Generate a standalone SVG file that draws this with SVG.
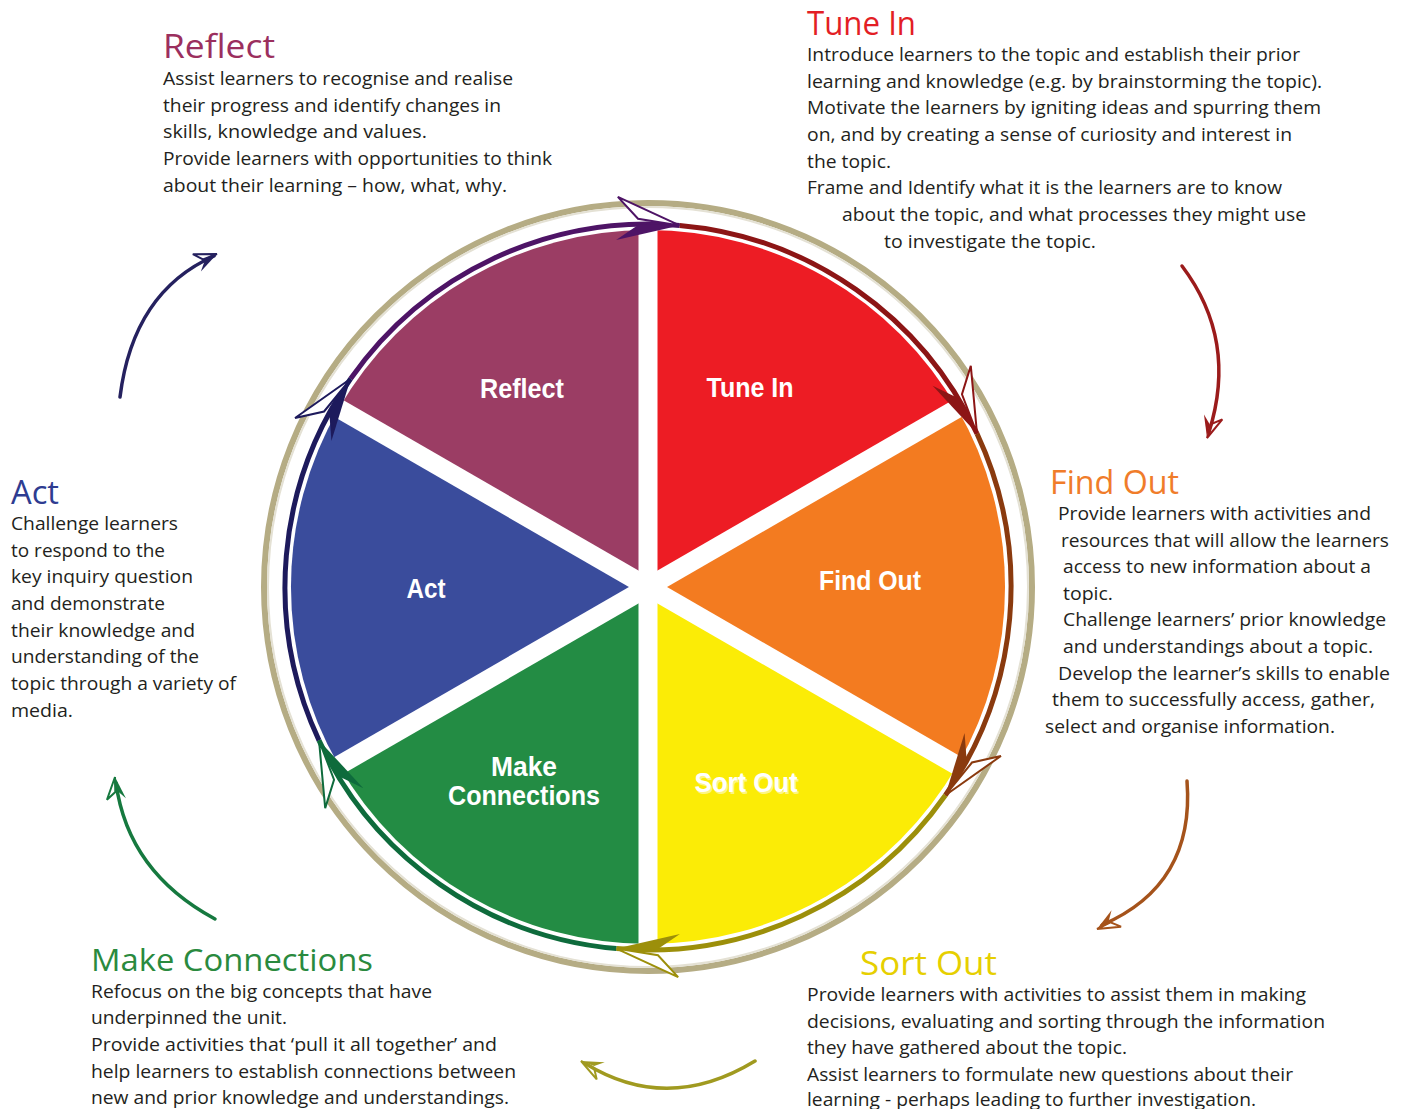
<svg xmlns="http://www.w3.org/2000/svg" width="1407" height="1109" viewBox="0 0 1407 1109">
<style>
.body{font-family:"Open Sans","Noto Sans","Liberation Sans",sans-serif;font-size:18px;fill:#231f20}
.title{font-family:"Open Sans","Noto Sans","Liberation Sans",sans-serif;font-size:33px}
.lbl{font-family:"Liberation Sans",Arial,sans-serif;font-weight:bold;font-size:28px;fill:#ffffff}
.sep{stroke:#ffffff;stroke-width:19}
.trk{fill:none;stroke-width:5}
.ext{fill:none;stroke-width:3.5;stroke-linecap:round}
</style>
<defs>
<g id="ah">
<polygon points="0,0 -64,-23 -42,-3" fill="#ffffff" stroke="currentColor" stroke-width="2" stroke-linejoin="miter"/>
<polygon points="0,0 -62,20 -40,2" fill="currentColor"/>
</g>
<g id="sh">
<path d="M0,0 L-22,-10 L-15,-1 Z" fill="none" stroke="currentColor" stroke-width="2"/>
<path d="M0,0 L-22,9 L-14,1 Z" fill="currentColor"/>
</g>
</defs>
<rect width="1407" height="1109" fill="#ffffff"/>

<g id="ring">
<circle cx="648" cy="587" r="384" fill="#ffffff" stroke="#b5ac84" stroke-width="6"/>
<circle cx="648" cy="587" r="380" fill="none" stroke="#e4e1d4" stroke-width="2"/>
</g>

<g id="tune-in">
<path d="M648,587 L648,230 A357,357 0 0 1 957.2,408.5 Z" fill="#ed1c24"/>
<text class="lbl" x="750" y="397" text-anchor="middle" textLength="87" lengthAdjust="spacingAndGlyphs">Tune In</text>
<text class="title" x="807" y="35" fill="#e31e25" textLength="109" lengthAdjust="spacingAndGlyphs">Tune In</text>
<text class="body" x="807" y="61" textLength="493" lengthAdjust="spacingAndGlyphs">Introduce learners to the topic and establish their prior</text>
<text class="body" x="807" y="88" textLength="515" lengthAdjust="spacingAndGlyphs">learning and knowledge (e.g. by brainstorming the topic).</text>
<text class="body" x="807" y="114" textLength="514" lengthAdjust="spacingAndGlyphs">Motivate the learners by igniting ideas and spurring them</text>
<text class="body" x="807" y="141" textLength="485" lengthAdjust="spacingAndGlyphs">on, and by creating a sense of curiosity and interest in</text>
<text class="body" x="807" y="168" textLength="84" lengthAdjust="spacingAndGlyphs">the topic.</text>
<text class="body" x="807" y="194" textLength="475" lengthAdjust="spacingAndGlyphs">Frame and Identify what it is the learners are to know</text>
<text class="body" x="842" y="221" textLength="464" lengthAdjust="spacingAndGlyphs">about the topic, and what processes they might use</text>
<text class="body" x="884" y="248" textLength="212" lengthAdjust="spacingAndGlyphs">to investigate the topic.</text>
</g>

<g id="find-out">
<path d="M648,587 L957.2,408.5 A357,357 0 0 1 957.2,765.5 Z" fill="#f37b20"/>
<text class="lbl" x="870" y="590" text-anchor="middle" textLength="102" lengthAdjust="spacingAndGlyphs">Find Out</text>
<text class="title" x="1050" y="494" fill="#f07c2a" textLength="129" lengthAdjust="spacingAndGlyphs">Find Out</text>
<text class="body" x="1058" y="520" textLength="313" lengthAdjust="spacingAndGlyphs">Provide learners with activities and</text>
<text class="body" x="1061" y="547" textLength="328" lengthAdjust="spacingAndGlyphs">resources that will allow the learners</text>
<text class="body" x="1063" y="573" textLength="308" lengthAdjust="spacingAndGlyphs">access to new information about a</text>
<text class="body" x="1063" y="600" textLength="50" lengthAdjust="spacingAndGlyphs">topic.</text>
<text class="body" x="1063" y="626" textLength="323" lengthAdjust="spacingAndGlyphs">Challenge learners’ prior knowledge</text>
<text class="body" x="1063" y="653" textLength="310" lengthAdjust="spacingAndGlyphs">and understandings about a topic.</text>
<text class="body" x="1058" y="680" textLength="332" lengthAdjust="spacingAndGlyphs">Develop the learner’s skills to enable</text>
<text class="body" x="1052" y="706" textLength="323" lengthAdjust="spacingAndGlyphs">them to successfully access, gather,</text>
<text class="body" x="1045" y="733" textLength="290" lengthAdjust="spacingAndGlyphs">select and organise information.</text>
</g>

<g id="sort-out">
<path d="M648,587 L957.2,765.5 A357,357 0 0 1 648,944 Z" fill="#fbec06"/>
<text class="lbl" x="747.5" y="793.5" text-anchor="middle" textLength="103" lengthAdjust="spacingAndGlyphs" fill="#6b5a00" opacity="0.5">Sort Out</text>
<text class="lbl" x="746" y="792" text-anchor="middle" textLength="103" lengthAdjust="spacingAndGlyphs">Sort Out</text>
<text class="title" x="860" y="975" fill="#e6cf00" textLength="137" lengthAdjust="spacingAndGlyphs">Sort Out</text>
<text class="body" x="807" y="1001" textLength="499" lengthAdjust="spacingAndGlyphs">Provide learners with activities to assist them in making</text>
<text class="body" x="807" y="1028" textLength="518" lengthAdjust="spacingAndGlyphs">decisions, evaluating and sorting through the information</text>
<text class="body" x="807" y="1054" textLength="320" lengthAdjust="spacingAndGlyphs">they have gathered about the topic.</text>
<text class="body" x="807" y="1081" textLength="486" lengthAdjust="spacingAndGlyphs">Assist learners to formulate new questions about their</text>
<text class="body" x="807" y="1106" textLength="449" lengthAdjust="spacingAndGlyphs">learning - perhaps leading to further investigation.</text>
</g>

<g id="make-connections">
<path d="M648,587 L648,944 A357,357 0 0 1 338.8,765.5 Z" fill="#238c44"/>
<text class="lbl" x="524" y="776" text-anchor="middle" textLength="66" lengthAdjust="spacingAndGlyphs">Make</text>
<text class="lbl" x="524" y="805" text-anchor="middle" textLength="152" lengthAdjust="spacingAndGlyphs">Connections</text>
<text class="title" x="91" y="971" fill="#2a8a3e" textLength="282" lengthAdjust="spacingAndGlyphs" style="font-size:31px">Make Connections</text>
<text class="body" x="91" y="998" textLength="341" lengthAdjust="spacingAndGlyphs">Refocus on the big concepts that have</text>
<text class="body" x="91" y="1024" textLength="196" lengthAdjust="spacingAndGlyphs">underpinned the unit.</text>
<text class="body" x="91" y="1051" textLength="406" lengthAdjust="spacingAndGlyphs">Provide activities that ‘pull it all together’ and</text>
<text class="body" x="91" y="1078" textLength="425" lengthAdjust="spacingAndGlyphs">help learners to establish connections between</text>
<text class="body" x="91" y="1104" textLength="418" lengthAdjust="spacingAndGlyphs">new and prior knowledge and understandings.</text>
</g>

<g id="act">
<path d="M648,587 L338.8,765.5 A357,357 0 0 1 338.8,408.5 Z" fill="#3a4c9c"/>
<text class="lbl" x="426" y="598" text-anchor="middle" textLength="39" lengthAdjust="spacingAndGlyphs">Act</text>
<text class="title" x="11" y="504" fill="#2e3c91" textLength="48" lengthAdjust="spacingAndGlyphs">Act</text>
<text class="body" x="11" y="530" textLength="167" lengthAdjust="spacingAndGlyphs">Challenge learners</text>
<text class="body" x="11" y="557" textLength="154" lengthAdjust="spacingAndGlyphs">to respond to the</text>
<text class="body" x="11" y="583" textLength="182" lengthAdjust="spacingAndGlyphs">key inquiry question</text>
<text class="body" x="11" y="610" textLength="154" lengthAdjust="spacingAndGlyphs">and demonstrate</text>
<text class="body" x="11" y="637" textLength="184" lengthAdjust="spacingAndGlyphs">their knowledge and</text>
<text class="body" x="11" y="663" textLength="188" lengthAdjust="spacingAndGlyphs">understanding of the</text>
<text class="body" x="11" y="690" textLength="225" lengthAdjust="spacingAndGlyphs">topic through a variety of</text>
<text class="body" x="11" y="717" textLength="62" lengthAdjust="spacingAndGlyphs">media.</text>
</g>

<g id="reflect">
<path d="M648,587 L338.8,408.5 A357,357 0 0 1 648,230 Z" fill="#9b3d64"/>
<text class="lbl" x="522" y="398" text-anchor="middle" textLength="84" lengthAdjust="spacingAndGlyphs">Reflect</text>
<text class="title" x="163" y="58" fill="#9b2f5e" textLength="112" lengthAdjust="spacingAndGlyphs">Reflect</text>
<text class="body" x="163" y="85" textLength="350" lengthAdjust="spacingAndGlyphs">Assist learners to recognise and realise</text>
<text class="body" x="163" y="112" textLength="338" lengthAdjust="spacingAndGlyphs">their progress and identify changes in</text>
<text class="body" x="163" y="138" textLength="264" lengthAdjust="spacingAndGlyphs">skills, knowledge and values.</text>
<text class="body" x="163" y="165" textLength="389" lengthAdjust="spacingAndGlyphs">Provide learners with opportunities to think</text>
<text class="body" x="163" y="192" textLength="344" lengthAdjust="spacingAndGlyphs">about their learning – how, what, why.</text>
</g>

<g id="separators">
<line class="sep" x1="648" y1="587" x2="648" y2="224"/>
<line class="sep" x1="648" y1="587" x2="962.4" y2="405.5"/>
<line class="sep" x1="648" y1="587" x2="962.4" y2="768.5"/>
<line class="sep" x1="648" y1="587" x2="648" y2="950"/>
<line class="sep" x1="648" y1="587" x2="333.6" y2="768.5"/>
<line class="sep" x1="648" y1="587" x2="333.6" y2="405.5"/>
</g>

<g id="connectors">
<path class="trk" stroke="#4e1466" d="M350.6,378.8 A363,363 0 0 1 679.6,225.4"/>
<path class="trk" stroke="#8c1515" d="M679.6,225.4 A363,363 0 0 1 977,433.6"/>
<path class="trk" stroke="#8a3a0e" d="M977,433.6 A363,363 0 0 1 945.4,795.2"/>
<path class="trk" stroke="#9c8f0a" d="M945.4,795.2 A363,363 0 0 1 616.4,948.6"/>
<path class="trk" stroke="#0e6b3c" d="M616.4,948.6 A363,363 0 0 1 319,740.4"/>
<path class="trk" stroke="#1d1a5c" d="M319,740.4 A363,363 0 0 1 350.6,378.8"/>
<use href="#ah" transform="translate(679.6,225.4) rotate(5)" style="color:#4e1466"/>
<use href="#ah" transform="translate(977,433.6) rotate(65)" style="color:#8c1515"/>
<use href="#ah" transform="translate(945.4,795.2) rotate(125)" style="color:#8a3a0e"/>
<use href="#ah" transform="translate(616.4,948.6) rotate(185)" style="color:#9c8f0a"/>
<use href="#ah" transform="translate(319,740.4) rotate(245)" style="color:#0e6b3c"/>
<use href="#ah" transform="translate(350.6,378.8) rotate(-55)" style="color:#1d1a5c"/>

<path class="ext" stroke="#25215f" d="M120,397 Q133,292 214,256"/>
<use href="#sh" transform="translate(217,254) rotate(-25)" style="color:#25215f"/>
<path class="ext" stroke="#9b1b1b" d="M1182,266 Q1238,340 1209,432"/>
<use href="#sh" transform="translate(1207,438) rotate(105)" style="color:#9b1b1b"/>
<path class="ext" stroke="#a5531b" d="M1187,781 Q1195,885 1102,925"/>
<use href="#sh" transform="translate(1097,929) rotate(150)" style="color:#a5531b"/>
<path class="ext" stroke="#a09a20" d="M755,1061 Q668,1114 586,1064"/>
<use href="#sh" transform="translate(581,1061) rotate(205)" style="color:#a09a20"/>
<path class="ext" stroke="#16793f" d="M215,919 Q128,872 116,783"/>
<use href="#sh" transform="translate(115,777) rotate(-95)" style="color:#16793f"/>
</g>
</svg>
